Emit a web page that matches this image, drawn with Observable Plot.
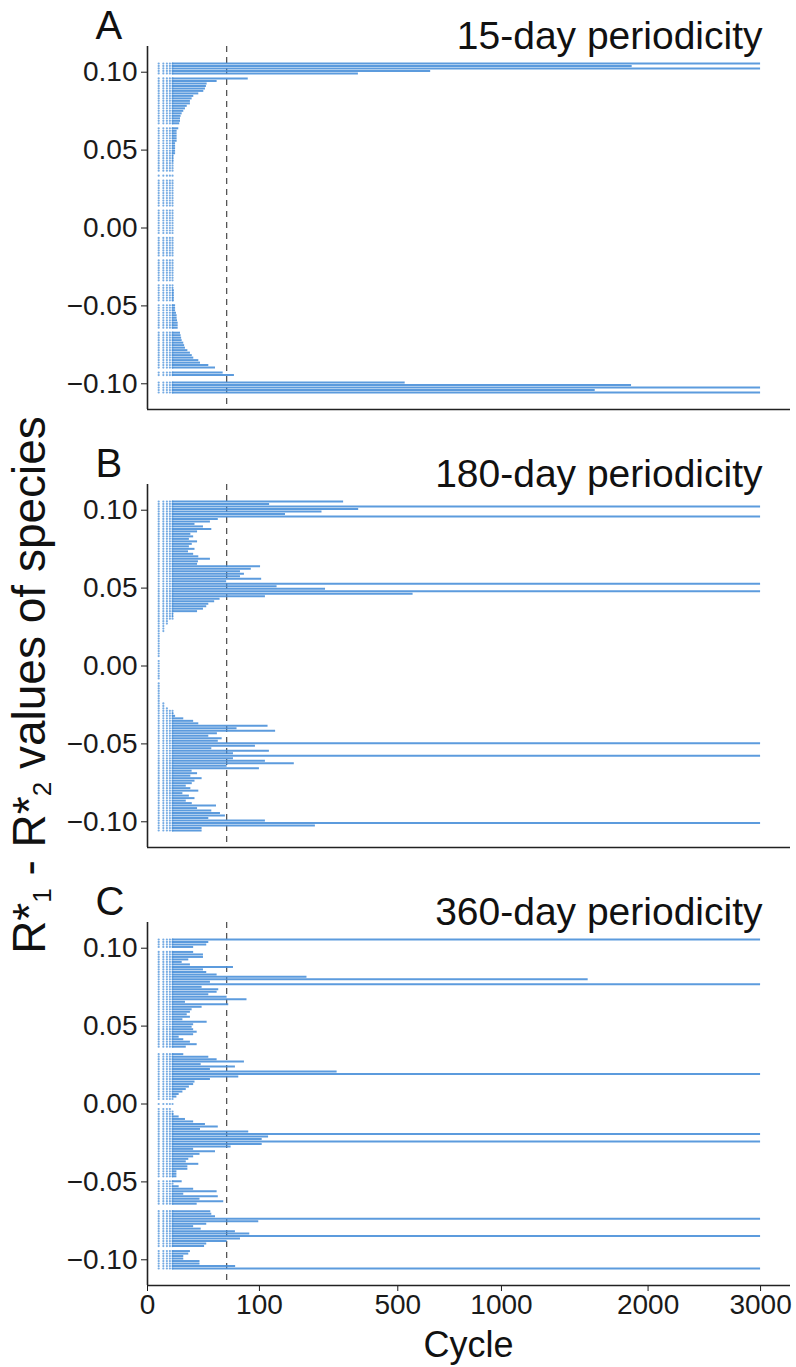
<!DOCTYPE html>
<html><head><meta charset="utf-8">
<script src="https://cdn.jsdelivr.net/npm/d3@7"></script>
<script src="https://cdn.jsdelivr.net/npm/@observablehq/plot@0.6"></script>
<style>body{margin:0;background:#fff;} svg{display:block}</style>
</head><body><div id="chart"></div>
<script>
// Species R*1 - R*2 values (rows, top to bottom)
const rStar = [
 0.1056,0.104,0.1024,0.1008,0.0992,0.0976,0.096,0.0944,0.0928,0.0912,
 0.0896,0.088,0.0864,0.0848,0.0832,0.0816,0.08,0.0784,0.0768,0.0752,
 0.0736,0.072,0.0704,0.0688,0.0672,0.0656,0.064,0.0624,0.0608,0.0592,
 0.0576,0.056,0.0544,0.0528,0.0512,0.0496,0.048,0.0464,0.0448,0.0432,
 0.0416,0.04,0.0384,0.0368,0.0352,0.0336,0.032,0.0304,0.0288,0.0272,
 0.0256,0.024,0.0224,0.0208,0.0192,0.0176,0.016,0.0144,0.0128,0.0112,
 0.0096,0.008,0.0064,0.0048,0.0032,0.0016,0,-0.0016,-0.0032,-0.0048,
 -0.0064,-0.008,-0.0096,-0.0112,-0.0128,-0.0144,-0.016,-0.0176,-0.0192,-0.0208,
 -0.0224,-0.024,-0.0256,-0.0272,-0.0288,-0.0304,-0.032,-0.0336,-0.0352,-0.0368,
 -0.0384,-0.04,-0.0416,-0.0432,-0.0448,-0.0464,-0.048,-0.0496,-0.0512,-0.0528,
 -0.0544,-0.056,-0.0576,-0.0592,-0.0608,-0.0624,-0.064,-0.0656,-0.0672,-0.0688,
 -0.0704,-0.072,-0.0736,-0.0752,-0.0768,-0.0784,-0.08,-0.0816,-0.0832,-0.0848,
 -0.0864,-0.088,-0.0896,-0.0912,-0.0928,-0.0944,-0.096,-0.0976,-0.0992,-0.1008,
 -0.1024,-0.104,-0.1056
];
// Last cycle each species persisted (null = absent)
const endA = [
 3000,1875,3000,640,355,null,81,38.7,28.4,27.7,
 26.8,25.3,21,17.1,15.9,14.7,14.7,12.6,11.5,10.5,
 9.6,9,8.7,8.7,8.3,null,7.8,7,7,7,
 7,7,6.3,6.3,6.3,6.3,6.3,5.5,5.5,5.5,
 5,5,5,5,null,5,null,5,5,5,
 5,5,5,5,5,5,5,5,null,5,
 5,5,5,5,5,5,5,5,5,null,
 5,5,5,5,5,5,5,5,null,5,
 5,5,5,5,5,5,5,5,null,5,
 5.2,5.7,5.7,5.7,5.7,5.7,null,6.3,6.3,6.3,
 6.7,7,7,7.2,7.5,7.5,7.5,null,8.7,9,
 9.3,9.6,10.5,11,11.5,13,14.7,16,17.1,21,
 22.4,30,36.9,null,45.7,60.3,null,null,530,1870,
 3000,1600,3000
];
const endB = [
 307,119,3000,356,243,152,3000,40,31.6,18,
 25,33,20,15,17,14,20,16,14,18,
 13.4,17,21,31.6,20.7,20,102,86,69,75,
 69,104,50,3000,134,253,3000,563,111,42,
 36,30,28,25,20,5.4,5.4,5,3,3,
 2.5,2,2,1.5,1.5,1.5,1.5,1,1.5,1,
 1,1,1,null,1,1,1,1,1,1,
 1,1,null,1,1,1,1,1,1,1,
 1,2,2.5,3,5,5.5,6.3,10.5,17,21,
 116,64,131,39,30,44.5,40,3000,93,33,
 118.6,59,3000,59,111,172,50.6,100,15.9,20,
 15,23.8,18,16,12,15,21,10,14,18,
 12,16,38,20,33,42.5,48.5,30,111,3000,
 225,23.8,23.8
];
const endC = [
 3000,30,28,17,null,17,25,25,13.6,9.6,
 14.7,59,25,28,38.7,203,1550,31.6,3000,23.8,
 40.5,38.7,30,50.6,79,11.5,52.7,23.8,15.9,14.7,
 12.6,14.7,10,28.4,17,15.9,17,19.7,17,8,
 10.5,14.7,19.7,12,null,null,10.5,30,38.7,75,
 23,61.7,31.6,287,3000,66.5,31.6,18,17,14,
 12,10,8,6.9,5,null,5,null,4.5,5,
 5.5,8,11.5,17,26.8,40,22.4,81.8,3000,117,
 105,3000,105,55.8,17,36.9,22,17,13.6,12,
 21,13,13,6.9,6.9,6.9,null,9.6,5,8,
 17,38.7,10.5,40,22,46.4,19.7,null,null,32,
 33,36.9,3000,98.8,28,17,23,61.7,83.5,3000,
 69,50.6,28,26,null,14.7,13.6,10.5,10.5,22,
 22,62,3000
];
const panels = ["A","B","C"];
const periodicity = ["15-day periodicity","180-day periodicity","360-day periodicity"];
const introCycles = [1,2,3,4,5];
const xTicks = [0,100,500,1000,2000,3000];
const yTicks = [-0.1,-0.05,0,0.05,0.1];
const thresholdCycle = 50;

const blue = "#4a90d9";
const ends = {A: endA, B: endB, C: endC};
const lastIntro = introCycles[introCycles.length - 1];
const segs = [], dots = [];
panels.forEach(p => rStar.forEach((r, i) => {
  const e = ends[p][i];
  if (e == null) return;
  introCycles.forEach(c => { if (c <= e) dots.push({panel: p, r, c}); });
  if (e > lastIntro) segs.push({panel: p, r, x1: lastIntro, x2: e});
}));
const titles = panels.map((p, i) => ({panel: p, letter: p, title: periodicity[i]}));

const yMin = -0.1165, yMax = 0.1165;
const chart = Plot.plot({
  width: 796, height: 1367,
  marginTop: 45, marginBottom: 81, marginLeft: 147, marginRight: 6,
  style: {fontFamily: "'Liberation Sans', Arial, Helvetica, sans-serif", fontSize: "28px", color: "#1a1a1a", background: "#fff"},
  fy: {domain: panels, paddingInner: 0.171, paddingOuter: 0, axis: null, label: null},
  x: {type: "sqrt", domain: [0, 3300], ticks: xTicks, tickFormat: d => String(d), tickSize: 6, tickPadding: 3, label: null},
  y: {domain: [yMin, yMax], ticks: yTicks, tickFormat: d3.format(".2f"), tickSize: 6, tickPadding: 4, label: null},
  marks: [
    Plot.ruleX([thresholdCycle], {stroke: "#555", strokeDasharray: "6,5", strokeWidth: 1.3}),
    Plot.ruleY(segs, {y: "r", x1: "x1", x2: "x2", fy: "panel", stroke: blue, strokeWidth: 2, strokeOpacity: 0.9}),
    Plot.dot(dots, {x: "c", y: "r", fy: "panel", r: 1.1, fill: blue, fillOpacity: 0.75, stroke: "none"}),
    Plot.ruleX([0], {stroke: "#222", strokeWidth: 1.6}),
    Plot.ruleY([yMin], {stroke: "#222", strokeWidth: 1.6}),
    Plot.text(titles, {fy: "panel", text: "letter", frameAnchor: "top-left", dx: -52, dy: -8, lineAnchor: "bottom", textAnchor: "start", fontSize: 40, fill: "#111"}),
    Plot.text(titles, {fy: "panel", text: "title", frameAnchor: "top-right", dx: -28, dy: 2, lineAnchor: "bottom", textAnchor: "end", fontSize: 39, fill: "#111"})
  ]
});
document.getElementById("chart").appendChild(chart);

const svg = d3.select(chart);
const ff = "'Liberation Sans', Arial, Helvetica, sans-serif";
svg.append("text").attr("x", 468.5).attr("y", 1357).attr("text-anchor", "middle")
  .attr("font-family", ff).attr("font-size", 36).attr("fill", "#111").text("Cycle");
const yl = svg.append("text").attr("transform", "translate(45,685) rotate(-90)")
  .attr("text-anchor", "middle").attr("font-family", ff).attr("font-size", 46).attr("fill", "#111");
yl.append("tspan").text("R*");
yl.append("tspan").attr("font-size", 26).attr("dy", 6).text("1");
yl.append("tspan").attr("dy", -6).text(" - R*");
yl.append("tspan").attr("font-size", 26).attr("dy", 6).text("2");
yl.append("tspan").attr("dy", -6).text(" values of species");
</script>
</body></html>
